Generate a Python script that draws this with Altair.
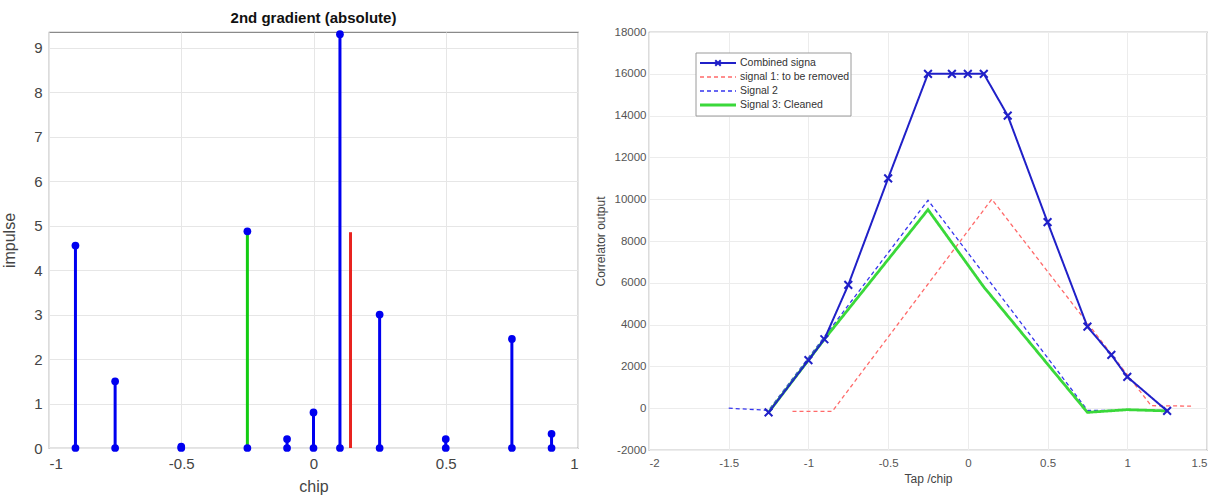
import altair as alt
import pandas as pd

# ---------------- left panel data ----------------
stem_x = [-0.9, -0.75, -0.5, -0.25, -0.1, 0.0, 0.1, 0.25, 0.5, 0.75, 0.9]
stem_y = [4.55, 1.5, 0.03, 4.87, 0.2, 0.8, 9.3, 3.0, 0.2, 2.45, 0.32]
stem_kind = ["main", "main", "main", "selected", "main", "main", "main",
             "main", "main", "main", "main"]
removed_x = [0.14]
removed_y = [4.85]
left_xticks = [-1, -0.5, 0, 0.5, 1]
left_yticks = [0, 1, 2, 3, 4, 5, 6, 7, 8, 9]

# ---------------- right panel data ----------------
tap_x = [-1.25, -1.0, -0.9, -0.75, -0.5, -0.25, -0.1, 0.0, 0.1, 0.25, 0.5, 0.75, 0.9, 1.0, 1.25]
combined_y = [-200, 2300, 3300, 5900, 11000, 16000, 16000, 16000, 16000, 14000, 8900, 3900, 2550, 1500, -130]
sig1_x = [-1.1, -0.85, 0.15, 1.15, 1.4]
sig1_y = [-150, -150, 10000, 120, 100]
sig2_x = [-1.5, -1.25, -0.25, 0.75, 1.25]
sig2_y = [0, -100, 9950, -100, -100]
sig3_x = [-1.25, -1.0, -0.9, -0.25, 0.1, 0.75, 1.0, 1.25]
sig3_y = [-200, 2300, 3300, 9500, 5800, -200, -70, -130]
series_names = ["Combined signa", "signal 1: to be removed", "Signal 2", "Signal 3: Cleaned"]
right_xticks = [-2, -1.5, -1, -0.5, 0, 0.5, 1, 1.5]
right_yticks = [-2000, 0, 2000, 4000, 6000, 8000, 10000, 12000, 14000, 16000, 18000]

FONT = "Liberation Sans"
BLUE = "#0000f0"
GREEN = "#11cc11"
RED = "#e8231f"

series_color = ["#2020c8", "#ff6a6a", "#3535ee", "#3ad83a"]
series_dash = [[1, 0], [4, 3], [4, 3], [1, 0]]
series_width = [2, 1.3, 1.3, 2.8]

# ---------------- left chart ----------------
stems = pd.DataFrame({"chip": stem_x, "impulse": stem_y, "kind": stem_kind})
removed = pd.DataFrame({"chip": removed_x, "impulse": removed_y, "kind": ["removed"]})

lx = alt.X("chip:Q", scale=alt.Scale(domain=[-1, 1], nice=False),
           axis=alt.Axis(values=left_xticks, title="chip", labelExpr="'' + datum.value",
                         labelFontSize=15, titleFontSize=16, labelPadding=8, titlePadding=7,
                         ticks=False, domain=False, gridColor="#e6e6e6",
                         labelColor="#444", titleColor="#444", titleFontWeight="normal"))
ly = alt.Y("impulse:Q", scale=alt.Scale(domain=[0, 9.35], nice=False),
           axis=alt.Axis(values=left_yticks, title="impulse", labelExpr="'' + datum.value",
                         labelFontSize=15, titleFontSize=16, labelPadding=7, titlePadding=8,
                         minExtent=24, maxExtent=24,
                         ticks=False, domain=False, gridColor="#e6e6e6",
                         labelColor="#444", titleColor="#444", titleFontWeight="normal"))
kind_color = alt.Color("kind:N", scale=alt.Scale(domain=["main", "selected", "removed"],
                                                range=[BLUE, GREEN, RED]), legend=None)

stem_rules = alt.Chart(stems).mark_rule(strokeWidth=3).encode(
    x=lx, y=ly, y2=alt.datum(0), color=kind_color)
removed_rule = alt.Chart(removed).mark_rule(strokeWidth=3).encode(
    x="chip:Q", y="impulse:Q", y2=alt.datum(0), color=kind_color)
tops = alt.Chart(stems).mark_circle(size=60, color=BLUE, opacity=1).encode(
    x="chip:Q", y="impulse:Q")
bases = alt.Chart(stems).mark_circle(size=60, color=BLUE, opacity=1).encode(
    x="chip:Q", y=alt.datum(0))

left = alt.layer(stem_rules, removed_rule, tops, bases).properties(
    width=529, height=416,
    title=alt.TitleParams("2nd gradient (absolute)", fontSize=15, fontWeight="bold",
                          font=FONT, color="#111", offset=4))

# ---------------- right chart ----------------
rx = alt.X("tap:Q", scale=alt.Scale(domain=[-2, 1.5], nice=False),
           axis=alt.Axis(values=right_xticks, title="Tap /chip", labelExpr="'' + datum.value",
                         labelFontSize=11.5, titleFontSize=12, labelPadding=7, titlePadding=5,
                         ticks=False, domain=False, gridColor="#ececec",
                         labelColor="#555", titleColor="#444", titleFontWeight="normal"))
ry = alt.Y("out:Q", scale=alt.Scale(domain=[-2000, 18000], nice=False),
           axis=alt.Axis(values=right_yticks, title="Correlator output", labelExpr="'' + datum.value",
                         labelFontSize=11.5, titleFontSize=12, labelPadding=3, titlePadding=6,
                         minExtent=36, maxExtent=36,
                         ticks=False, domain=False, gridColor="#ececec",
                         labelColor="#555", titleColor="#444", titleFontWeight="normal"))

series_data = [(tap_x, combined_y), (sig1_x, sig1_y), (sig2_x, sig2_y), (sig3_x, sig3_y)]
layers = []
draw_order = [1, 2, 3, 0]
for k in draw_order:
    xs, ys = series_data[k]
    df = pd.DataFrame({"tap": xs, "out": ys, "i": list(range(len(xs)))})
    enc = dict(x=rx, y=ry) if not layers else dict(x="tap:Q", y="out:Q")
    layers.append(alt.Chart(df).mark_line(
        color=series_color[k], strokeDash=series_dash[k], strokeWidth=series_width[k]
    ).encode(order="i:Q", **enc))

comb_df = pd.DataFrame({"tap": tap_x, "out": combined_y})
layers.append(alt.Chart(comb_df).mark_point(
    shape="M-1,-1L1,1M-1,1L1,-1", filled=False, color=series_color[0], strokeWidth=2, size=60,
    opacity=1).encode(x="tap:Q", y="out:Q"))

# ---- legend (drawn inside the plot, top-left) ----
LEG_X0, LEG_X1, LEG_Y0, LEG_Y1 = 47, 202, 21, 84
ROW0, ROWSTEP = 31, 14
SYM0, SYM1, TXT = 51, 87, 91
box_df = pd.DataFrame({"name": ["legend"]})
layers.append(alt.Chart(box_df).mark_rect(fill="white", stroke="#9a9a9a", strokeWidth=1).encode(
    x=alt.value(LEG_X0), x2=alt.value(LEG_X1), y=alt.value(LEG_Y0), y2=alt.value(LEG_Y1)))
for k, name in enumerate(series_names):
    row_y = ROW0 + ROWSTEP * k
    ndf = pd.DataFrame({"name": [name]})
    layers.append(alt.Chart(ndf).mark_rule(
        color=series_color[k], strokeDash=series_dash[k], strokeWidth=series_width[k]
    ).encode(x=alt.value(SYM0), x2=alt.value(SYM1), y=alt.value(row_y)))
    layers.append(alt.Chart(ndf).mark_text(
        align="left", baseline="middle", fontSize=10.5, font=FONT, color="#333"
    ).encode(text="name:N", x=alt.value(TXT), y=alt.value(row_y)))
    if k == 0:
        layers.append(alt.Chart(ndf).mark_point(
            shape="M-1,-1L1,1M-1,1L1,-1", filled=False, color=series_color[0],
            strokeWidth=2, size=30, opacity=1
        ).encode(x=alt.value((SYM0 + SYM1) / 2), y=alt.value(row_y)))

right = alt.layer(*layers).properties(
    width=558, height=418,
    title=alt.TitleParams(" ", fontSize=15, font=FONT, offset=4))

chart = alt.hconcat(left, right, spacing=14).properties(
    padding={"left": 0, "top": 6, "right": 0, "bottom": 0}
).configure(font=FONT).configure_view(stroke="#8a8a8a", strokeWidth=1.2)

chart.save("out.html", embed_options={"renderer": "svg", "actions": False})
